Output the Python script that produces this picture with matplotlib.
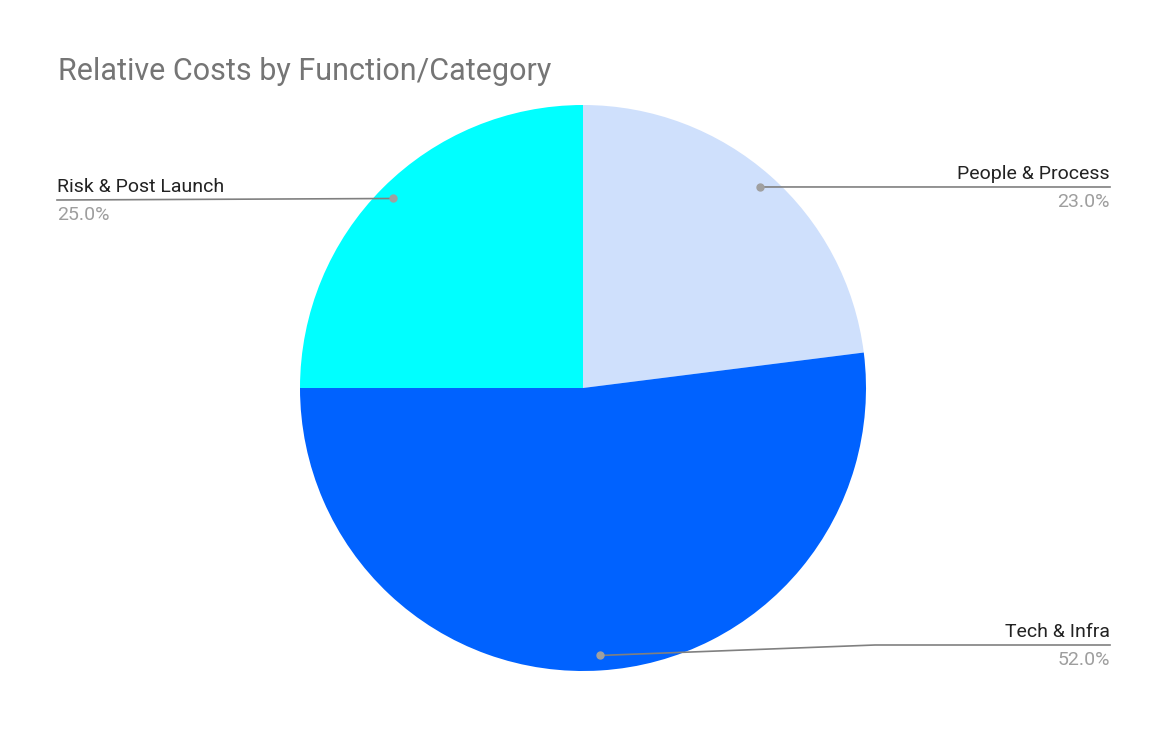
import numpy as np
import matplotlib
matplotlib.use("Agg")
import matplotlib.pyplot as plt

categories = ["People & Process", "Tech & Infra", "Risk & Post Launch"]
values = [23.0, 52.0, 25.0]
colors = ["#cfe0fc", "#0062ff", "#00ffff"]

plt.rcParams['font.family'] = ['Roboto', 'DejaVu Sans']
fig = plt.figure(figsize=(11.7, 7.52), dpi=100)
ax = fig.add_axes([0, 0, 1, 1])

cx, cy, R = 583, 388, 283
# y axis is inverted (pixel coords), so start at -90 and go counterclockwise in data = clockwise on screen
ax.pie(values, colors=colors, startangle=-90, counterclock=True, center=(cx, cy), radius=R,
       wedgeprops=dict(linewidth=0), frame=True)
ax.set_xlim(0, 1170); ax.set_ylim(752, 0); ax.set_aspect('equal'); ax.axis('off')

fig.text(58/1170, 1-72/752, "Relative Costs by Function/Category", fontsize=22, color="#757575", va='center')

total = sum(values)
cum = 0
label_specs = {
    "People & Process": dict(side='right', ly=187),
    "Tech & Infra": dict(side='right', ly=645),
    "Risk & Post Launch": dict(side='left', ly=200),
}
for cat, v in zip(categories, values):
    mid = 90 - (cum + v / 2) / total * 360
    cum += v
    px = cx + 0.947 * R * np.cos(np.radians(mid))
    py = cy - 0.947 * R * np.sin(np.radians(mid))
    spec = label_specs[cat]
    ly = spec['ly']
    if spec['side'] == 'right':
        if cat == "Tech & Infra":
            xs = [px, 875, 1110]; ys = [py, ly, ly]
        else:
            xs = [px, 1110]; ys = [py, ly]
        tx, ha = 1110, 'right'
    else:
        xs = [px, 57]; ys = [py, ly]
        tx, ha = 57, 'left'
    ax.plot(xs, ys, color="#808080", lw=1.2)
    ax.plot([px], [py], 'o', color="#a0a0a0", ms=5)
    ax.text(tx, ly - 13, cat, ha=ha, va='center', fontsize=14, color="#222222")
    ax.text(tx, ly + 15, f"{v:.1f}%", ha=ha, va='center', fontsize=14, color="#9e9e9e")

fig.savefig("out.png", dpi=100, facecolor='white')
